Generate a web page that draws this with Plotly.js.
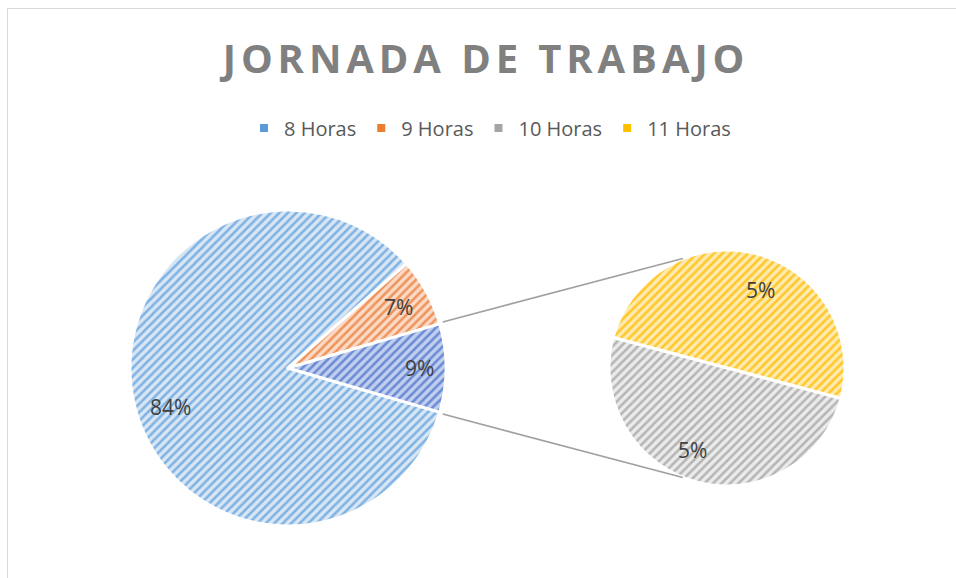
<!DOCTYPE html>
<html><head><meta charset="utf-8">
<script src="https://cdn.plot.ly/plotly-3.0.1.min.js"></script>
<style>body{margin:0;background:#fff}#chart{width:956px;height:578px}.gtitle{letter-spacing:4.9px}</style>
</head><body><div id="chart"></div><script>
// ---- data ----
const mainLabels = ['8 Horas', '9 Horas', 'Otro'];
const mainValues = [84, 7, 9];
const secondLabels = ['11 Horas', '10 Horas'];
const secondValues = [4.5, 4.5];
const legendLabels = ['8 Horas', '9 Horas', '10 Horas', '11 Horas'];
const titleText = 'JORNADA DE TRABAJO';

// ---- styling ----
const W = 956, H = 578;
const fgCol = {'8 Horas':'#80b2e2','9 Horas':'#f0935a','Otro':'#6a8bd4','10 Horas':'#b5b5b5','11 Horas':'#ffc72a'};
const bgCol = {'8 Horas':'#d8e7f6','9 Horas':'#fadbc7','Otro':'#c2cfef','10 Horas':'#ebebeb','11 Horas':'#ffebb0'};
const solid = {'8 Horas':'#5B9BD5','9 Horas':'#ED7D31','10 Horas':'#A5A5A5','11 Horas':'#FFC000'};

const secondTotal = secondValues.reduce((a, b) => a + b, 0);
const total = mainValues.slice(0, 2).reduce((a, b) => a + b, 0) + secondTotal;
const mainTotal = mainValues.reduce((a, b) => a + b, 0);

// geometry (px)
const m = {cx: 288, cy: 368, r: 158};
const s = {cx: 727, cy: 368, r: 118};
function dom(g) {
  return {x: [(g.cx - g.r) / W, (g.cx + g.r) / W], y: [1 - (g.cy + g.r) / H, 1 - (g.cy - g.r) / H]};
}
const otherShare = mainValues[2] / mainTotal;
const mainRotation = 90 + otherShare * 180;
const secondRotation = 285;

function pat(labels) {
  return {
    shape: '/',
    fgcolor: labels.map(l => fgCol[l]),
    bgcolor: labels.map(l => bgCol[l]),
    size: 6, solidity: 0.42
  };
}

const traces = [
  {
    type: 'pie', labels: mainLabels, values: mainValues, sort: false,
    direction: 'clockwise', rotation: mainRotation, domain: dom(m),
    marker: {colors: mainLabels.map(l => bgCol[l]), pattern: pat(mainLabels), line: {color: '#fff', width: 3}},
    textinfo: 'none', hoverinfo: 'none', showlegend: false
  },
  {
    type: 'pie', labels: secondLabels, values: secondValues, sort: false,
    direction: 'clockwise', rotation: secondRotation, domain: dom(s),
    marker: {colors: secondLabels.map(l => bgCol[l]), pattern: pat(secondLabels), line: {color: '#fff', width: 3}},
    textinfo: 'none', hoverinfo: 'none', showlegend: false
  }
];
legendLabels.forEach(l => traces.push({
  type: 'scatter', mode: 'markers', x: [null], y: [null], name: l,
  marker: {symbol: 'square', size: 8, color: solid[l]}, hoverinfo: 'none'
}));

// labels at slice mid-angles
const annotations = [];
function addLabels(g, values, tot, rot, frac, shift, denom) {
  let a = rot;
  values.forEach((v, i) => {
    const span = v / tot * 360;
    const mid = (a + span / 2 + shift[i]) * Math.PI / 180;
    const px = g.cx + frac[i] * g.r * Math.sin(mid);
    const py = g.cy - frac[i] * g.r * Math.cos(mid);
    annotations.push({
      x: px / W, y: 1 - py / H, xref: 'paper', yref: 'paper', showarrow: false,
      xanchor: 'center', yanchor: 'middle',
      text: Math.round(v / denom * 100) + '%',
      font: {family: 'Open Sans, sans-serif', size: 21, color: '#404040'}
    });
    a += span;
  });
}
addLabels(m, mainValues, mainTotal, mainRotation, [0.785, 0.8, 0.83], [-5.7, 0, 0], mainTotal);
addLabels(s, secondValues, secondTotal, secondRotation, [0.72, 0.755], [8, 8], total);

// connector lines
const ha = otherShare * Math.PI;
const p1 = [m.cx + m.r * Math.cos(ha), m.cy - m.r * Math.sin(ha)];
const p2 = [m.cx + m.r * Math.cos(ha), m.cy + m.r * Math.sin(ha)];
const ca = 112 * Math.PI / 180;
const q1 = [s.cx + s.r * Math.cos(ca), s.cy - s.r * Math.sin(ca)];
const q2 = [s.cx + s.r * Math.cos(ca), s.cy + s.r * Math.sin(ca)];
function seg(a, b) {
  return {type: 'line', xref: 'paper', yref: 'paper', x0: (a[0] + 3) / W, y0: 1 - (a[1] - 2) / H, x1: b[0] / W, y1: 1 - b[1] / H,
    line: {color: '#a0a0a0', width: 1.6}};
}
function segB(a, b) {
  return {type: 'line', xref: 'paper', yref: 'paper', x0: (a[0] + 3) / W, y0: 1 - (a[1] + 2) / H, x1: b[0] / W, y1: 1 - b[1] / H,
    line: {color: '#a0a0a0', width: 1.6}};
}
const shapes = [
  seg(p1, q1), segB(p2, q2),
  {type: 'rect', xref: 'paper', yref: 'paper', x0: 7.5 / W, x1: 1.05, y0: -0.05, y1: 1 - 8.5 / H,
    line: {color: '#d9d9d9', width: 1}, layer: 'below'}
];

const layout = {
  width: W, height: H, margin: {l: 0, r: 0, t: 0, b: 0},
  paper_bgcolor: '#fff', plot_bgcolor: '#fff',
  title: {text: titleText, x: 486 / W, xanchor: 'center', y: 1 - 59 / H, yanchor: 'middle', yref: 'container',
    font: {family: 'Open Sans, sans-serif', size: 40, color: '#808080', weight: 'bold'}},
  xaxis: {visible: false}, yaxis: {visible: false},
  showlegend: true,
  legend: {orientation: 'h', x: 490 / W, xanchor: 'center', y: 1 - 128 / H, yanchor: 'middle',
    font: {family: 'Open Sans, sans-serif', size: 20, color: '#595959'}, bgcolor: 'rgba(0,0,0,0)'},
  annotations: annotations, shapes: shapes
};
Plotly.newPlot('chart', traces, layout, {staticPlot: true});
</script></body></html>
